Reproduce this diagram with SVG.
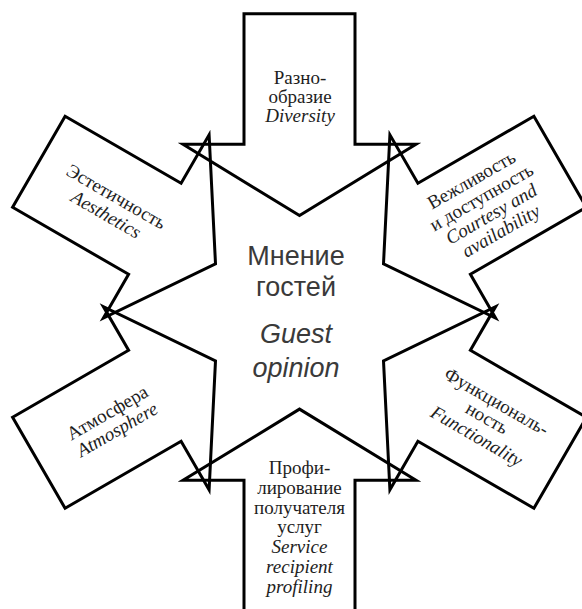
<svg xmlns="http://www.w3.org/2000/svg" width="582" height="609" viewBox="0 0 582 609">
<style>
.arrow{fill:none;stroke:#000;stroke-width:3;stroke-linejoin:miter;stroke-miterlimit:10}
.lbl{font-family:"Liberation Serif","Times New Roman",serif;font-size:19px;fill:#1e1e1e;text-anchor:middle}
.en{font-style:italic}
.ctr{font-family:"Liberation Sans",Arial,sans-serif;font-size:27px;fill:#3a3a3a;text-anchor:middle}
</style>
<rect width="582" height="609" fill="#fff"/>
<g id="connectors"></g>
<g id="node-diversity">
<polygon class="arrow" points="244,13.7 355,13.7 355,144.3 416,144.3 299.5,215.5 183,144.3 244,144.3"/>
<text class="lbl" x="300" y="83.5">Разно-</text>
<text class="lbl" x="300" y="102.5">образие</text>
<text class="lbl en" x="300" y="121.5">Diversity</text>
</g>
<g id="node-aesthetics">
<polygon class="arrow" points="65.1,116.3 181.1,183.3 209.1,134.8 215.5,263.8 103.4,318 128.6,274.3 12.6,207.3"/>
<g transform="translate(111,206) rotate(30)">
<text class="lbl" x="0" y="-4.5">Эстетичность</text>
<text class="lbl en" x="0" y="16">Aesthetics</text>
</g>
</g>
<g id="node-courtesy">
<polygon class="arrow" points="533.9,116.3 417.9,183.3 389.9,134.8 383.5,263.8 495.6,318 470.4,274.3 586.4,207.3"/>
<g transform="translate(487,207) rotate(-30)">
<text class="lbl" x="0" y="-25">Вежливость</text>
<text class="lbl" x="0" y="-5">и доступность</text>
<text class="lbl en" x="0" y="14.5">Courtesy and</text>
<text class="lbl en" x="0" y="34">availability</text>
</g>
</g>
<g id="node-atmosphere">
<polygon class="arrow" points="65.1,508.3 181.1,441.3 209.1,489.8 215.5,360.8 103.4,306.6 128.6,350.3 12.6,417.3"/>
<g transform="translate(113,422.5) rotate(-30)">
<text class="lbl" x="0" y="-5">Атмосфера</text>
<text class="lbl en" x="0" y="14.5">Atmosphere</text>
</g>
</g>
<g id="node-functionality">
<polygon class="arrow" points="533.9,508.3 417.9,441.3 389.9,489.8 383.5,360.8 495.6,306.6 470.4,350.3 586.4,417.3"/>
<g transform="translate(486,420) rotate(30)">
<text class="lbl" x="0" y="-15">Функциональ-</text>
<text class="lbl" x="0" y="4">ность</text>
<text class="lbl en" x="0" y="25">Functionality</text>
</g>
</g>
<g id="node-profiling">
<polygon class="arrow" points="244,612 355,612 355,480.3 416,480.3 299.5,409.1 183,480.3 244,480.3"/>
<text class="lbl" x="299.5" y="474">Профи-</text>
<text class="lbl" x="299.5" y="493.8">лирование</text>
<text class="lbl" x="299.5" y="513.6">получателя</text>
<text class="lbl" x="299.5" y="533.4">услуг</text>
<text class="lbl en" x="299.5" y="553.2">Service</text>
<text class="lbl en" x="299.5" y="573">recipient</text>
<text class="lbl en" x="299.5" y="592.8">profiling</text>
</g>
<g id="node-center">
<text class="ctr" x="296" y="265">Мнение</text>
<text class="ctr" x="296" y="296.3">гостей</text>
<text class="ctr en" x="296" y="343.3">Guest</text>
<text class="ctr en" x="296" y="376.7">opinion</text>
</g>
</svg>
